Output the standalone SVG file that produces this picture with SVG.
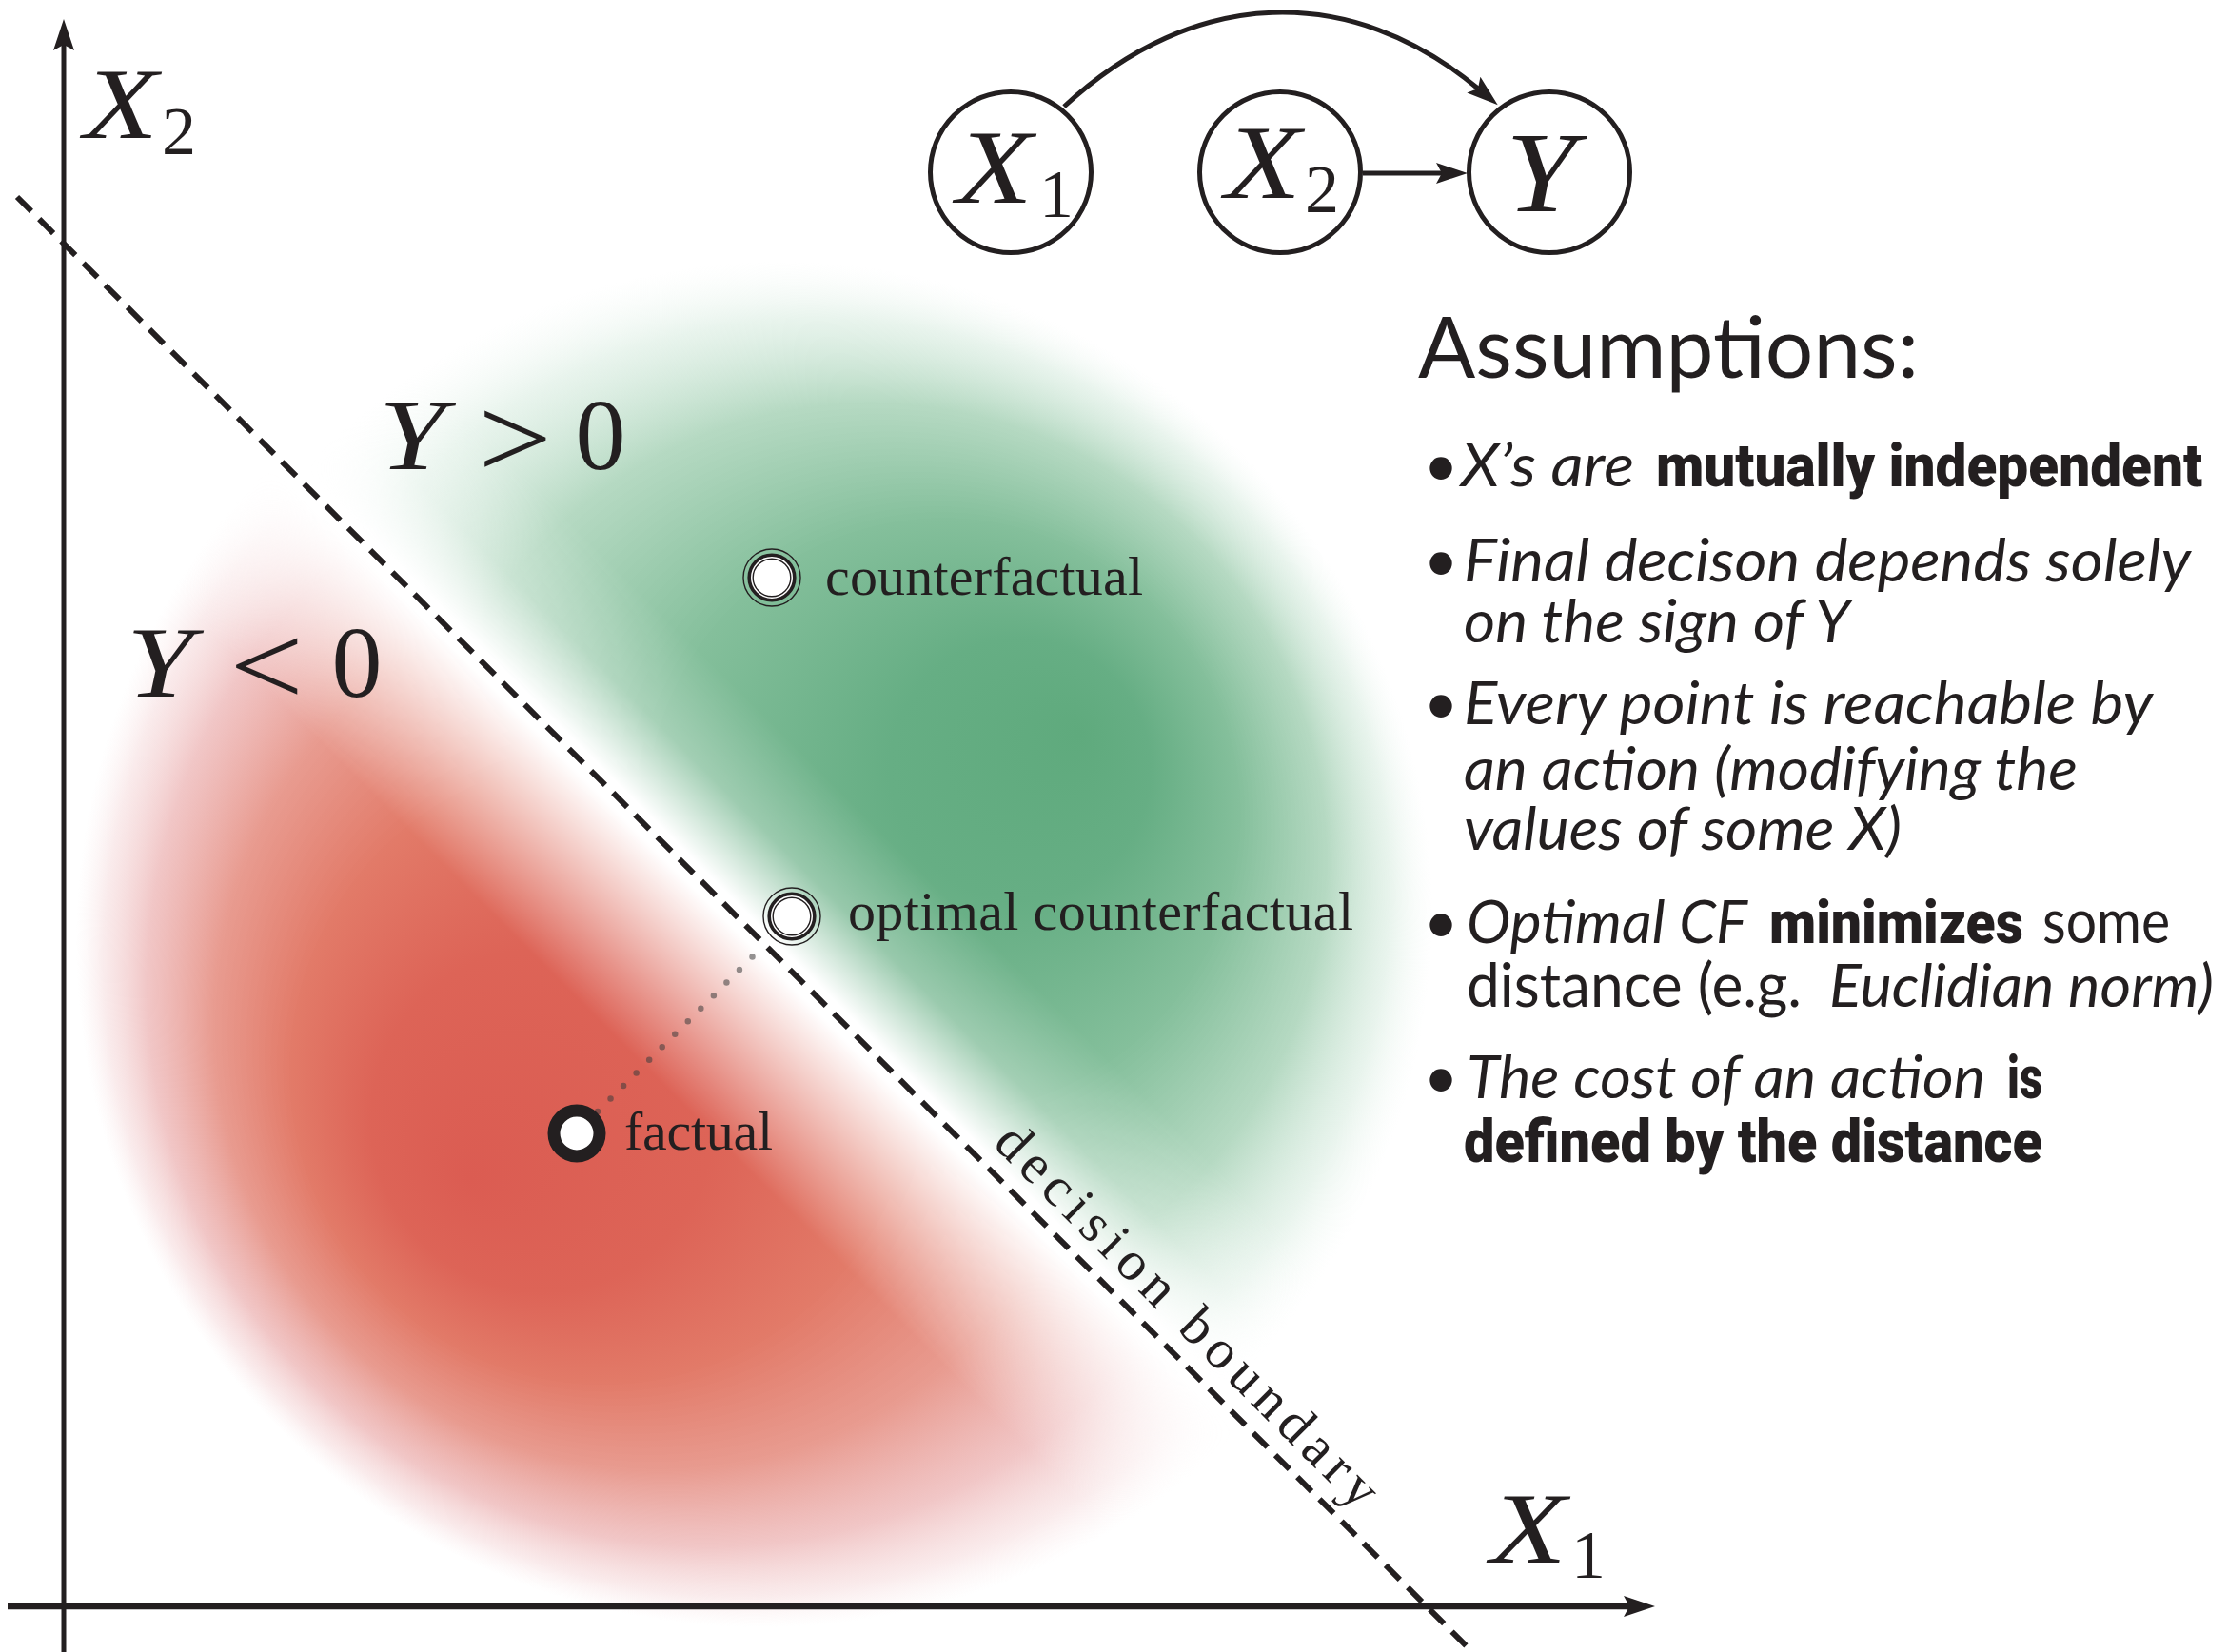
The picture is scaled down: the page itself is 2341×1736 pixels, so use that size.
<svg xmlns="http://www.w3.org/2000/svg" width="2341" height="1736" viewBox="0 0 2341 1736">
<defs>
<style>
.ln{stroke:#231f20;fill:none}
.math{font-family:"Liberation Serif","Times New Roman",serif;font-style:italic;fill:#231f20}
.num{font-family:"Liberation Serif","Times New Roman",serif;font-style:normal;fill:#231f20}
.lbl{font-family:"Liberation Serif","Times New Roman",serif;font-size:58px;fill:#231f20}
.body{font-family:Lato,"Open Sans","DejaVu Sans",sans-serif;font-size:63px;fill:#231f20}
.it{font-style:italic}
.bd{font-family:Roboto,"Liberation Sans",sans-serif;font-weight:900}
.node{fill:#fff;stroke:#231f20;stroke-width:5}
</style>
<radialGradient id="gG" gradientUnits="userSpaceOnUse" cx="820" cy="960" r="685" fx="1135" fy="770">
<stop offset="0" stop-color="#5faa7d"/>
<stop offset="0.2" stop-color="#66ae84"/>
<stop offset="0.45" stop-color="#84bf9b"/>
<stop offset="0.7" stop-color="#afd6bd" stop-opacity="0.92"/>
<stop offset="0.88" stop-color="#d6ebde" stop-opacity="0.55"/>
<stop offset="1" stop-color="#eef7f1" stop-opacity="0"/>
</radialGradient>
<radialGradient id="gR" gradientUnits="userSpaceOnUse" cx="800" cy="990" r="720" fx="493" fy="1240">
<stop offset="0" stop-color="#db5c52"/>
<stop offset="0.25" stop-color="#dd6457"/>
<stop offset="0.45" stop-color="#e27a68"/>
<stop offset="0.65" stop-color="#e7968a" stop-opacity="0.95"/>
<stop offset="0.82" stop-color="#ebaeae" stop-opacity="0.7"/>
<stop offset="0.93" stop-color="#f0c6c8" stop-opacity="0.35"/>
<stop offset="1" stop-color="#f6dcdd" stop-opacity="0"/>
</radialGradient>
<linearGradient id="mG" gradientUnits="userSpaceOnUse" x1="800" y1="989" x2="920" y2="869">
<stop offset="0" stop-color="#000"/>
<stop offset="0.06" stop-color="#000"/>
<stop offset="0.5" stop-color="#bbb"/>
<stop offset="1" stop-color="#fff"/>
</linearGradient>
<linearGradient id="mR" gradientUnits="userSpaceOnUse" x1="800" y1="989" x2="673" y2="1116">
<stop offset="0" stop-color="#000"/>
<stop offset="0.06" stop-color="#000"/>
<stop offset="1" stop-color="#fff"/>
</linearGradient>
<mask id="maskG" maskUnits="userSpaceOnUse" x="0" y="0" width="2341" height="1736"><rect width="2341" height="1736" fill="url(#mG)"/></mask>
<mask id="maskR" maskUnits="userSpaceOnUse" x="0" y="0" width="2341" height="1736"><rect width="2341" height="1736" fill="url(#mR)"/></mask>
<marker id="ah" markerUnits="userSpaceOnUse" viewBox="-8 -12 36 24" refX="0" refY="0" markerWidth="36" markerHeight="24" orient="auto">
<path d="M-6,-11 L27,0 L-6,11 L0,0 Z" fill="#231f20"/>
</marker>
</defs>

<rect width="2341" height="1736" fill="#fff"/>

<g id="regions">
<circle cx="800" cy="990" r="720" fill="url(#gR)" mask="url(#maskR)"/>
<circle cx="820" cy="960" r="685" fill="url(#gG)" mask="url(#maskG)"/>
</g>

<g id="plot">
<line class="ln" x1="18" y1="207" x2="1547" y2="1736" stroke-width="6" stroke-dasharray="21 11.8"/>
<path class="ln" d="M67,1736 V47" stroke-width="5" marker-end="url(#ah)"/>
<path class="ln" d="M8,1688 H1712" stroke-width="6.5" marker-end="url(#ah)"/>
<text class="math" x="88" y="145" font-size="106" textLength="78" lengthAdjust="spacingAndGlyphs">X</text>
<text class="num" x="170" y="162" font-size="72">2</text>
<text class="math" x="1566" y="1642" font-size="106" textLength="80" lengthAdjust="spacingAndGlyphs">X</text>
<text class="num" x="1651" y="1658" font-size="72">1</text>
<text class="math" x="398" y="493" font-size="106" textLength="70" lengthAdjust="spacingAndGlyphs">Y</text>
<text class="num" font-size="106" text-anchor="middle" transform="translate(541,467) scale(1.3,1.15)" y="30">&gt;</text>
<text class="num" x="631" y="493" font-size="106" text-anchor="middle">0</text>
<text class="math" x="133" y="732" font-size="106" textLength="70" lengthAdjust="spacingAndGlyphs">Y</text>
<text class="num" font-size="106" text-anchor="middle" transform="translate(280,706) scale(1.3,1.15)" y="30">&lt;</text>
<text class="num" x="375" y="732" font-size="106" text-anchor="middle">0</text>
<text class="lbl" font-size="74" transform="translate(1042,1203) rotate(45)" textLength="545">decision boundary</text>
</g>

<g id="distance">
<line x1="628" y1="1168" x2="804" y2="992" stroke="#3c3c3c" stroke-opacity="0.55" stroke-width="6.5" stroke-linecap="round" stroke-dasharray="0 19.15"/>
</g>

<g id="counterfactual">
<circle cx="811" cy="607" r="30" fill="none" stroke="#231f20" stroke-width="1.4"/>
<circle cx="811" cy="607" r="23.8" fill="#fff" stroke="#231f20" stroke-width="3.6"/>
<circle cx="811" cy="607" r="19.8" fill="none" stroke="#231f20" stroke-width="1.4"/>
<text class="lbl" x="867" y="625" textLength="334">counterfactual</text>
</g>

<g id="optimal-counterfactual">
<circle cx="832" cy="963" r="30" fill="none" stroke="#231f20" stroke-width="1.4"/>
<circle cx="832" cy="963" r="23.8" fill="#fff" stroke="#231f20" stroke-width="3.6"/>
<circle cx="832" cy="963" r="19.8" fill="none" stroke="#231f20" stroke-width="1.4"/>
<text class="lbl" x="891" y="977" textLength="531">optimal counterfactual</text>
</g>

<g id="factual">
<circle cx="606" cy="1191" r="24" fill="#fff" stroke="#231f20" stroke-width="13"/>
<text class="lbl" x="656" y="1208" textLength="156">factual</text>
</g>

<g id="connectors">
<path class="ln" d="M1118,112 C1255,-15 1420,-18 1553,93" stroke-width="5" marker-end="url(#ah)"/>
<path class="ln" d="M1432,182 H1515" stroke-width="5" marker-end="url(#ah)"/>
</g>

<g id="node-X1">
<circle class="node" cx="1062" cy="181" r="84.5"/>
<text class="math" x="1005" y="213" font-size="110" textLength="80" lengthAdjust="spacingAndGlyphs">X</text>
<text class="num" x="1092" y="228" font-size="72">1</text>
</g>
<g id="node-X2">
<circle class="node" cx="1345" cy="181" r="84.5"/>
<text class="math" x="1287" y="208" font-size="110" textLength="80" lengthAdjust="spacingAndGlyphs">X</text>
<text class="num" x="1371" y="223" font-size="72">2</text>
</g>
<g id="node-Y">
<circle class="node" cx="1628" cy="181" r="84.5"/>
<text class="math" x="1582" y="222" font-size="120" textLength="74" lengthAdjust="spacingAndGlyphs">Y</text>
</g>

<g id="assumptions" class="body">
<text x="1490" y="397" font-size="90" textLength="526" lengthAdjust="spacingAndGlyphs">Assumptions:</text>
<text x="1514" y="511" text-anchor="middle">•</text>
<text class="it" x="1535" y="511" textLength="182" lengthAdjust="spacingAndGlyphs">X’s are</text>
<text class="bd" x="1740" y="511" textLength="574" lengthAdjust="spacingAndGlyphs">mutually independent</text>
<text x="1514" y="611" text-anchor="middle">•</text>
<text class="it" x="1538" y="611" textLength="764" lengthAdjust="spacingAndGlyphs">Final decison depends solely</text>
<text class="it" x="1538" y="675" textLength="406" lengthAdjust="spacingAndGlyphs">on the sign of Y</text>
<text x="1514" y="761" text-anchor="middle">•</text>
<text class="it" x="1538" y="761" textLength="724" lengthAdjust="spacingAndGlyphs">Every point is reachable by</text>
<text class="it" x="1538" y="830" textLength="645" lengthAdjust="spacingAndGlyphs">an action (modifying the</text>
<text class="it" x="1538" y="893" textLength="460" lengthAdjust="spacingAndGlyphs">values of some X)</text>
<text x="1514" y="991" text-anchor="middle">•</text>
<text class="it" x="1541" y="991" textLength="295" lengthAdjust="spacingAndGlyphs">Optimal CF</text>
<text class="bd" x="1859" y="991" textLength="267" lengthAdjust="spacingAndGlyphs">minimizes</text>
<text x="2146" y="991" textLength="134" lengthAdjust="spacingAndGlyphs">some</text>
<text x="1541" y="1058" textLength="352" lengthAdjust="spacingAndGlyphs">distance (e.g.</text>
<text class="it" x="1922" y="1058" textLength="404" lengthAdjust="spacingAndGlyphs">Euclidian norm)</text>
<text x="1514" y="1154" text-anchor="middle">•</text>
<text class="it" x="1541" y="1154" textLength="545" lengthAdjust="spacingAndGlyphs">The cost of an action</text>
<text class="bd" x="2109" y="1154" textLength="37" lengthAdjust="spacingAndGlyphs">is</text>
<text class="bd" x="1538" y="1221" textLength="608" lengthAdjust="spacingAndGlyphs">defined by the distance</text>
</g>
</svg>
